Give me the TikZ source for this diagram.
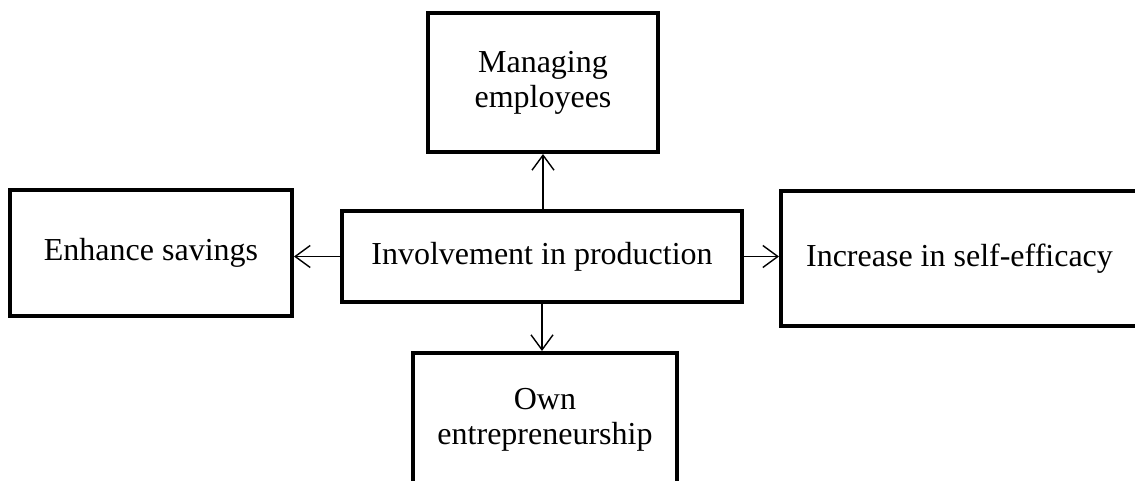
\documentclass[tikz,border=0pt]{standalone}
\usepackage{fontspec}
\setmainfont{Liberation Serif}
\usetikzlibrary{arrows.meta, positioning}

\tikzset{
   effbox/.style={draw, line width=4pt, rectangle, align=center, inner sep=0pt,
      font=\fontsize{32}{35}\selectfont},
   effarrow/.style={-{Straight Barb[length=15pt, width=22pt]}, line width=1.4pt}
}

\begin{document}
\begin{tikzpicture}[x=1pt, y=-1pt]
      \useasboundingbox (0,0) rectangle (1135,481);
      % Centre
      \node[effbox, minimum width=400, minimum height=91] (prod) at (542,256.5) {Involvement in production};
      % Outcomes
      \node[effbox, minimum width=230, minimum height=139] (manage) at (543,82.5) {Managing\\employees};
      \node[effbox, minimum width=282, minimum height=126] (savings) at (151,253) {Enhance savings};
      \node[effbox, minimum width=357, minimum height=135] (efficacy) at (959.5,258.5) {Increase in self-efficacy};
      \node[effbox, minimum width=264, minimum height=134] (entre) at (545,420) {Own\\entrepreneurship};
      % Arrows
      \draw[effarrow] (prod.north -| manage.south) -- (manage.south);
      \draw[effarrow] (prod.west) -- (prod.west -| savings.east);
      \draw[effarrow] (prod.east) -- (prod.east -| efficacy.west);
      \draw[effarrow] (prod.south) -- (prod.south |- entre.north);
   \end{tikzpicture}
\end{document}
